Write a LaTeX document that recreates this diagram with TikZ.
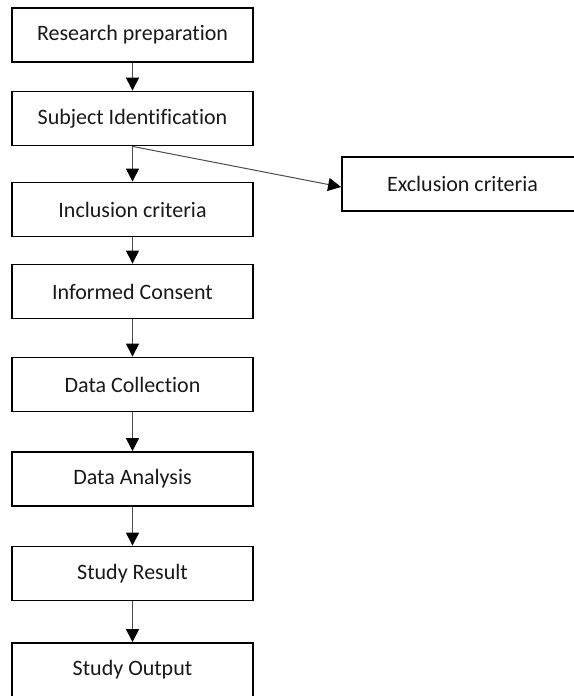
\documentclass[tikz,border=0pt]{standalone}
\usepackage{fontspec}
\setmainfont{Carlito}[Ligatures=NoCommon]
\usetikzlibrary{arrows.meta}
\begin{document}
\begin{tikzpicture}[x=1pt,y=-1pt,
  box/.style={draw=black,line width=1.8pt,fill=white,minimum width=241pt,minimum height=54pt,inner sep=0pt,font=\fontsize{22}{26}\selectfont,text=black!90},
  conn/.style={draw=black!70,line width=1pt,-{Triangle[length=13pt,width=13pt,color=black,fill=black]}}]
\useasboundingbox (0,0) rectangle (573,696);
\node[box] (a) at (132.5,35) {Research preparation};
\node[box] (b) at (132.5,118.5) {Subject Identification};
\node[box] (c) at (132.5,209.5) {Inclusion criteria};
\node[box] (d) at (132.5,291.5) {Informed Consent};
\node[box] (e) at (132.5,384.5) {Data Collection};
\node[box] (f) at (132.5,479) {Data Analysis};
\node[box] (g) at (132.5,573.5) {Study Result};
\node[box] (h) at (132.5,670) {Study Output};
\node[box] (x) at (462.5,184) {Exclusion criteria};
\draw[conn] (a) -- (b);
\draw[conn] (b) -- (c);
\draw[conn] (c) -- (d);
\draw[conn] (d) -- (e);
\draw[conn] (e) -- (f);
\draw[conn] (f) -- (g);
\draw[conn] (g) -- (h);
\draw[conn] (b.south) -- ([yshift=-3pt]x.west);
\end{tikzpicture}
\end{document}
